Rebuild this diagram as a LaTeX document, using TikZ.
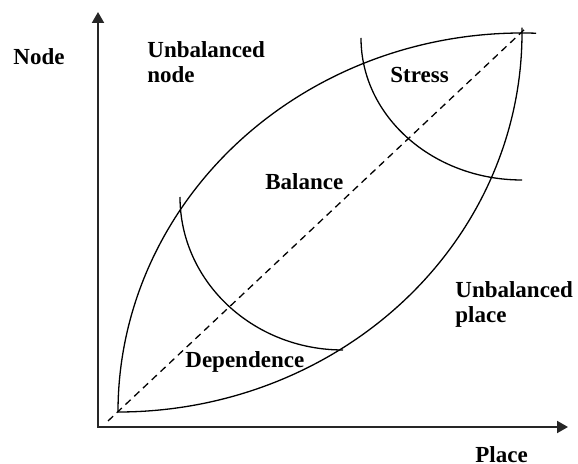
\documentclass[tikz,border=0pt]{standalone}
\usepackage{fontspec}
\setmainfont{Liberation Serif}
\usetikzlibrary{arrows.meta}
\begin{document}
\begin{tikzpicture}[x=0.5pt,y=-0.5pt,
  lbl/.style={font=\fontsize{11.5}{12.5}\selectfont\bfseries, inner sep=0pt, align=left},
  axis/.style={line width=1pt, draw=black!85, {Triangle[length=5.5pt,width=6pt]}-{Triangle[length=5.5pt,width=6pt]}},
  curve/.style={line width=0.65pt},
  diag/.style={line width=0.65pt, dash pattern=on 3.5pt off 2.5pt}]
\useasboundingbox (0,0) rectangle (578,464);
% axes
\coordinate (O) at (98,427);
\coordinate (ytip) at (98,12);
\coordinate (xtip) at (568,427);
\draw[axis] (ytip) -- (O) -- (xtip);
% lens
\coordinate (A) at (118,412);
\draw[curve] (A) arc[start angle=180, end angle=272, x radius=404, y radius=379];
\draw[curve] (A) arc[start angle=90, end angle=-0.8, x radius=404, y radius=379];
% diagonal
\coordinate (d0) at (108,421);
\coordinate (d1) at (526,28);
\draw[diag] (d0) -- (d1);
% dependence arc
\coordinate (D1) at (180,197);
\draw[curve] (D1) arc[start angle=180, end angle=90, x radius=163, y radius=153];
% stress arc
\coordinate (S1) at (361,38);
\draw[curve] (S1) arc[start angle=180, end angle=90, x radius=161, y radius=142];
% labels
\node[lbl, anchor=base west] (nodelbl) at (13,65) {Node};
\node[lbl, anchor=base west] (unode) at (147,83) {Unbalanced\\node};
\node[lbl, anchor=base west] (stress) at (390,83) {Stress};
\node[lbl, anchor=base west] (bal) at (265,190) {Balance};
\node[lbl, anchor=base west] (dep) at (185,368) {Dependence};
\node[lbl, anchor=base west] (uplace) at (455,323) {Unbalanced\\place};
\node[lbl, anchor=base west] (placelbl) at (475,462) {Place};
\end{tikzpicture}
\end{document}
